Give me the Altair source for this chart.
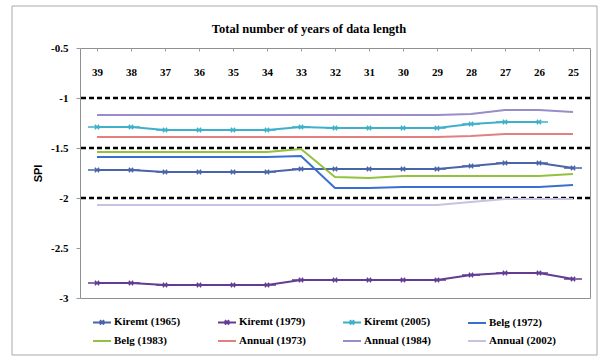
import altair as alt
import pandas as pd

lengths = ["39", "38", "37", "36", "35", "34", "33", "32", "31", "30", "29", "28", "27", "26", "25"]

series_names = ["Kiremt (1965)", "Kiremt (1979)", "Kiremt (2005)", "Belg (1972)",
                "Belg (1983)", "Annual (1973)", "Annual (1984)", "Annual (2002)"]
series_colors = ["#4A64A8", "#633C93", "#3FB0CA", "#3A6FD0",
                 "#94C23E", "#E28080", "#9A8CCB", "#C9C0E2"]

kiremt_1965 = [-1.72, -1.72, -1.74, -1.74, -1.74, -1.74, -1.71, -1.71, -1.71, -1.71, -1.71, -1.68, -1.65, -1.65, -1.70]
kiremt_1979 = [-2.85, -2.85, -2.87, -2.87, -2.87, -2.87, -2.82, -2.82, -2.82, -2.82, -2.82, -2.77, -2.75, -2.75, -2.81]
kiremt_2005 = [-1.29, -1.29, -1.32, -1.32, -1.32, -1.32, -1.29, -1.30, -1.30, -1.30, -1.30, -1.26, -1.24, -1.24, None]
belg_1972 = [-1.59, -1.59, -1.59, -1.59, -1.59, -1.59, -1.58, -1.90, -1.90, -1.89, -1.89, -1.89, -1.89, -1.89, -1.87]
belg_1983 = [-1.54, -1.54, -1.54, -1.54, -1.54, -1.54, -1.51, -1.79, -1.80, -1.78, -1.78, -1.78, -1.78, -1.78, -1.76]
annual_1973 = [-1.39, -1.39, -1.39, -1.39, -1.39, -1.39, -1.39, -1.39, -1.39, -1.39, -1.39, -1.38, -1.36, -1.36, -1.36]
annual_1984 = [-1.17, -1.17, -1.17, -1.17, -1.17, -1.17, -1.17, -1.17, -1.17, -1.17, -1.17, -1.16, -1.12, -1.12, -1.14]
annual_2002 = [-2.07, -2.07, -2.07, -2.07, -2.07, -2.07, -2.07, -2.07, -2.07, -2.07, -2.07, -2.04, -2.01, -2.01, -2.01]

all_values = [kiremt_1965, kiremt_1979, kiremt_2005, belg_1972,
              belg_1983, annual_1973, annual_1984, annual_2002]

thresholds = [-1.0, -1.5, -2.0]
y_ticks = [-3.0, -2.5, -2.0, -1.5, -1.0, -0.5]

rows = []
for name, vals in zip(series_names, all_values):
    for length, v in zip(lengths, vals):
        if v is not None:
            rows.append({"series": name, "len": length, "spi": v})
df = pd.DataFrame(rows)

SERIF = "Liberation Serif"

kiremt_sym = "M-1,0L1,0M-0.24,-0.24L0.24,0.24M-0.24,0.24L0.24,-0.24"
other_sym = "M-1,0L1,0M0,-0.1L0,0.1"
shape_range = [kiremt_sym if n.startswith("Kiremt") else other_sym for n in series_names]

color_scale = alt.Scale(domain=series_names, range=series_colors)
shape_scale = alt.Scale(domain=series_names, range=shape_range)

x_enc = alt.X(
    "len:O", sort=lengths, scale=alt.Scale(padding=0.5),
    axis=alt.Axis(orient="bottom", offset=-250, domain=False, ticks=True, tickSize=3,
                  tickColor="#999999", labelPadding=15, labelAngle=0, labelFont=SERIF,
                  labelFontWeight="bold", labelFontSize=11, labelColor="black", title=None),
)
y_enc = alt.Y(
    "spi:Q", scale=alt.Scale(domain=[-3, -0.5], nice=False, zero=False),
    axis=alt.Axis(values=y_ticks, labelExpr="'-' + format(abs(datum.value), '~g')",
                  grid=False, domain=False, tickSize=4, tickColor="#999999",
                  labelPadding=8, labelFont=SERIF, labelFontWeight="bold", labelFontSize=11,
                  labelColor="black", title="SPI", titleFont="Liberation Sans",
                  titleFontSize=11, titleFontWeight="bold", titlePadding=7, titleColor="black"),
)

legend = alt.Legend(
    orient="none", legendX=12, legendY=264, columns=4, title=None, direction="horizontal",
    gridAlign="all", columnPadding=33, rowPadding=2,
    labelFont=SERIF, labelFontWeight="bold", labelFontSize=11, labelColor="black",
    labelOffset=2, symbolSize=324, symbolStrokeWidth=2,
)

lines = alt.Chart(df).mark_line(strokeWidth=2).encode(
    x=x_enc, y=y_enc,
    color=alt.Color("series:N", scale=color_scale, sort=series_names, legend=legend),
)

points = alt.Chart(df).transform_filter(
    "indexof(datum.series, 'Kiremt') === 0"
).mark_point(size=324, strokeWidth=1.5, filled=False, opacity=1).encode(
    x=x_enc, y=y_enc,
    color=alt.Color("series:N", scale=color_scale, sort=series_names, legend=legend),
    shape=alt.Shape("series:N", scale=shape_scale, sort=series_names, legend=legend),
)

rules = alt.Chart(pd.DataFrame({"spi": thresholds})).mark_rule(
    color="black", strokeWidth=2.5, strokeDash=[5, 3]
).encode(y=alt.Y("spi:Q"))

frame = alt.Chart(pd.DataFrame({"a": [0]})).mark_rect(
    fillOpacity=0, stroke="#a8a8a8", strokeWidth=1
).encode(x=alt.value(-68), x2=alt.value(517), y=alt.value(-42), y2=alt.value(307))

chart = alt.layer(frame, rules, lines, points).properties(
    width=510, height=250,
    title=alt.TitleParams("Total number of years of data length", font=SERIF,
                          fontWeight="bold", fontSize=12.5, dx=-26, offset=-30, color="black"),
    autosize=alt.AutoSizeParams(type="none"),
    padding={"left": 80, "top": 48, "right": 14, "bottom": 60},
    background="white",
).configure_view(stroke="#909090", strokeWidth=1)

chart.save("out.html", embed_options={"renderer": "svg", "actions": False})
